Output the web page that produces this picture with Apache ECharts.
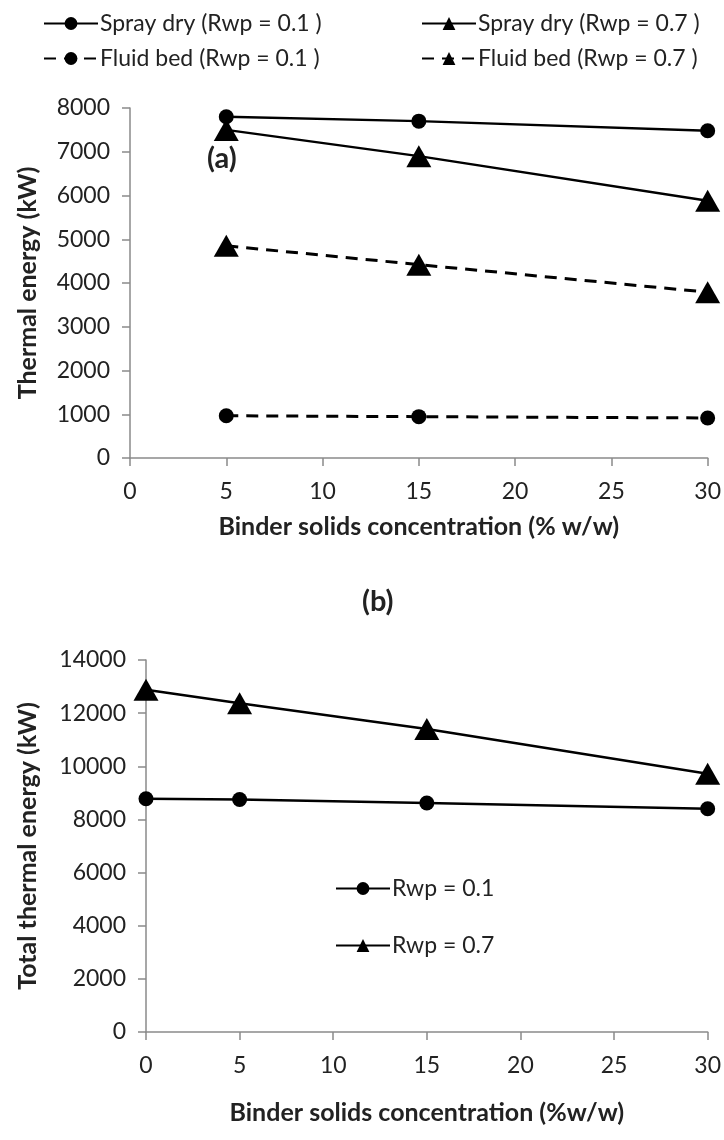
<!DOCTYPE html>
<html>
<head>
<meta charset="utf-8">
<script src="https://cdn.jsdelivr.net/npm/echarts@6/dist/echarts.min.js"></script>
<style>html,body{margin:0;padding:0;background:#fff}#c{width:724px;height:1140px}</style>
</head>
<body>
<div id="c"></div>
<script>
// Panel (a)
const xA = [5, 15, 30];
const sprayLow = [7800, 7700, 7480];
const sprayHigh = [7500, 6900, 5880];
const fluidLow = [965, 945, 915];
const fluidHigh = [4850, 4420, 3790];
const namesA = ['Spray dry (Rwp = 0.1 )', 'Spray dry (Rwp = 0.7 )', 'Fluid bed (Rwp = 0.1 )', 'Fluid bed (Rwp = 0.7 )'];
// Panel (b)
const xB = [0, 5, 15, 30];
const totalLow = [8780, 8750, 8620, 8400];
const totalHigh = [12880, 12370, 11400, 9720];
const namesB = ['Rwp = 0.1', 'Rwp = 0.7'];
const titlesX = ['Binder solids concentration (% w/w)', 'Binder solids concentration (%w/w)'];
const titlesY = ['Thermal energy (kW)', 'Total thermal energy (kW)'];
const panelLabels = ['(a)', '(b)'];

const FONT = 'Lato';
const axisCol = '#8a8a8a';
const txtCol = '#222';
const pair = (xs, ys) => xs.map((x, i) => [x, ys[i]]);

function xAxis(idx, title, gap) {
  return {
    type: 'value', gridIndex: idx, min: 0, max: 30, interval: 5,
    name: title, nameLocation: 'middle', nameGap: gap,
    nameTextStyle: {fontFamily: FONT, fontWeight: 'bold', fontSize: 25, color: txtCol},
    axisLine: {show: true, lineStyle: {color: axisCol, width: 1.5}},
    axisTick: {show: true, length: 8, lineStyle: {color: axisCol, width: 1.5}},
    axisLabel: {fontFamily: FONT, fontSize: 23, color: txtCol, margin: 22, formatter: v => String(v)},
    splitLine: {show: false}
  };
}
function yAxis(idx, max, interval, title, gap) {
  return {
    type: 'value', gridIndex: idx, min: 0, max: max, interval: interval,
    name: title, nameLocation: 'middle', nameGap: gap, nameRotate: 90,
    nameTextStyle: {fontFamily: FONT, fontWeight: 'bold', fontSize: 25, color: txtCol},
    axisLine: {show: true, lineStyle: {color: axisCol, width: 1.5}},
    axisTick: {show: true, length: 8, lineStyle: {color: axisCol, width: 1.5}},
    axisLabel: {fontFamily: FONT, fontSize: 23, color: txtCol, margin: 20, formatter: v => String(v)},
    splitLine: {show: false}
  };
}
function line(name, xi, data, dashed, sym) {
  return {
    name: name, type: 'line', xAxisIndex: xi, yAxisIndex: xi, data: data,
    symbol: sym, symbolSize: sym === 'circle' ? 15 : [25, 22],
    itemStyle: {color: '#000'},
    lineStyle: {color: '#000', width: dashed ? 3 : 2.5, type: dashed ? [12, 8] : 'solid'},
    animation: false, z: 3
  };
}
const legendText = {fontFamily: FONT, fontSize: 23, color: txtCol, padding: [0, 0, 0, -3]};

const chart = echarts.init(document.getElementById('c'), null, {renderer: 'canvas'});
chart.setOption({
  backgroundColor: '#fff',
  animation: false,
  grid: [
    {left: 130, top: 108, width: 578, height: 350},
    {left: 146, top: 660, width: 562, height: 372}
  ],
  xAxis: [xAxis(0, titlesX[0], 56), xAxis(1, titlesX[1], 68)],
  yAxis: [yAxis(0, 8000, 1000, titlesY[0], 90), yAxis(1, 14000, 2000, titlesY[1], 106)],
  legend: [
    {orient: 'vertical', left: 38, top: 7, itemGap: 12, itemWidth: 54, itemHeight: 16,
     data: [namesA[0], namesA[2]], textStyle: legendText},
    {orient: 'vertical', left: 416, top: 7, itemGap: 12, itemWidth: 54, itemHeight: 16,
     data: [namesA[1], namesA[3]], textStyle: legendText},
    {orient: 'vertical', left: 330, top: 872, itemGap: 34, itemWidth: 54, itemHeight: 16,
     data: namesB, textStyle: legendText}
  ],
  graphic: [
    {type: 'text', left: 207, top: 144, style: {text: panelLabels[0], font: 'bold 29px ' + FONT, fill: txtCol}},
    {type: 'text', left: 362, top: 587, style: {text: panelLabels[1], font: 'bold 29px ' + FONT, fill: txtCol}}
  ],
  series: [
    line(namesA[0], 0, pair(xA, sprayLow), false, 'circle'),
    line(namesA[1], 0, pair(xA, sprayHigh), false, 'triangle'),
    line(namesA[2], 0, pair(xA, fluidLow), true, 'circle'),
    line(namesA[3], 0, pair(xA, fluidHigh), true, 'triangle'),
    line(namesB[0], 1, pair(xB, totalLow), false, 'circle'),
    line(namesB[1], 1, pair(xB, totalHigh), false, 'triangle')
  ]
});
</script>
</body>
</html>
